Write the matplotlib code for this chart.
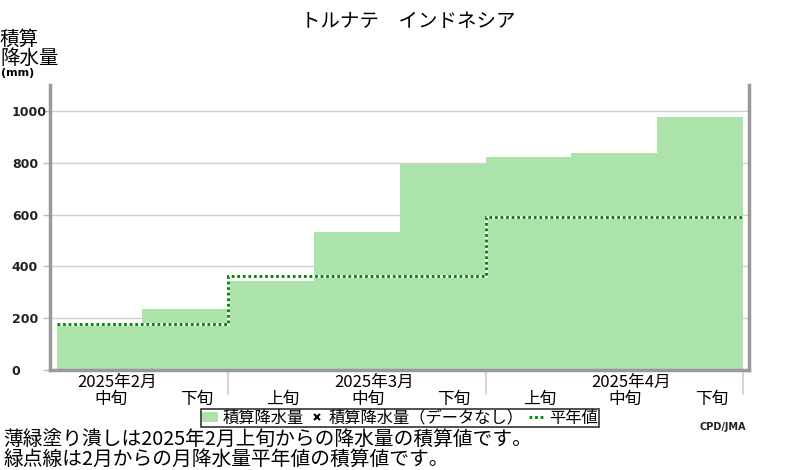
import matplotlib
matplotlib.use('Agg')
import matplotlib.pyplot as plt
from matplotlib.lines import Line2D
from matplotlib.patches import Patch

plt.rcParams['font.family'] = ['Noto Sans CJK JP', 'DejaVu Sans']

# data
title = 'トルナテ　インドネシア'
dekads = ['中旬', '下旬', '上旬', '中旬', '下旬', '上旬', '中旬', '下旬']
months = ['2025年2月', '2025年3月', '2025年4月']
month_dekads = [2, 3, 3]          # dekads shown in each month
month_label_at = [0, 3, 6]        # dekad under which the month label sits
precip = [174, 236, 342, 534, 797, 824, 839, 975]
normal = [177, 364, 589]          # cumulative monthly normal
yticks = [0, 200, 400, 600, 800, 1000]

W, H = 800, 470
def fx(px): return px / W
def fy(py): return 1 - py / H

fig = plt.figure(figsize=(8, 4.7), dpi=100)
ax = fig.add_axes([fx(50), fy(370), fx(749) - fx(50), fy(85) - fy(370)])

green_fill = '#abe3ab'
axis_grey = '#999999'

x = list(range(len(precip)))
ax.bar(x, precip, width=1.0, align='edge', color=green_fill, zorder=2)

edges = [0]
for n in month_dekads:
    edges.append(edges[-1] + n)
ax.stairs(normal, edges, baseline=None, color='white', lw=2.0, zorder=3)
ax.stairs(normal, edges, baseline=None, color='#008000', lw=2.0,
          linestyle=(0, (1, 1)), zorder=4)

ax.set_xlim(-0.078, len(precip) + 0.07)
ax.set_ylim(0, 1100)
ax.set_yticks(yticks)
ax.set_yticklabels([str(v) for v in yticks], fontsize=9, fontweight='bold',
                   family='DejaVu Sans', color='#222222')
for lab in ax.get_yticklabels():
    lab.set_horizontalalignment('left')
ax.tick_params(axis='y', length=5, width=1, color='#bbbbbb', pad=22.5)
ax.set_xticks([])
ax.grid(axis='y', color='#d0d0d0', lw=1, zorder=0)
ax.set_axisbelow(True)

for side in ['left', 'right', 'bottom']:
    ax.spines[side].set_color(axis_grey)
    ax.spines[side].set_linewidth(2.5)
ax.spines['top'].set_visible(False)

# x labels below the axis
trans = ax.get_xaxis_transform()
for i, d in enumerate(dekads):
    ax.text(i + 0.63, -0.103, d, transform=trans, ha='center', va='center',
            fontsize=12, clip_on=False)
for m, i in zip(months, month_label_at):
    ax.text(i + 0.7, -0.044, m, transform=trans, ha='center', va='center',
            fontsize=12, clip_on=False)
for e in edges[1:]:
    ax.plot([e, e], [-0.01, -0.085], transform=trans, color='#cccccc',
            lw=1.2, clip_on=False)

fig.text(fx(408), fy(21), title, ha='center', va='center', fontsize=14)
fig.text(0, fy(29), '積算\n降水量', ha='left', va='top', fontsize=14,
         linespacing=0.85)
fig.text(fx(1), fy(73), '(mm)', ha='left', va='center', fontsize=8,
         fontweight='bold', family='DejaVu Sans')

handles = [Patch(facecolor=green_fill, edgecolor='none'),
           Line2D([], [], marker='x', color='black', linestyle='none',
                  markersize=5, markeredgewidth=1.5),
           Line2D([], [], color='#008000', lw=2, linestyle=(0, (1, 1)))]
labels = ['積算降水量', '積算降水量（データなし）', '平年値']
leg = fig.legend(handles, labels, loc='center',
                 bbox_to_anchor=(fx(400), fy(418)), ncol=3, fontsize=11.7,
                 frameon=True, fancybox=False, edgecolor='black',
                 borderpad=0.05, handlelength=1.0, handletextpad=0.25,
                 columnspacing=0.3, borderaxespad=0, handleheight=0.6)
leg.get_frame().set_linewidth(1.2)

fig.text(fx(700), fy(427), 'CPD/JMA', ha='left', va='center', fontsize=7,
         fontweight='bold', family='DejaVu Sans', color='#222222')

fig.text(fx(3), fy(440), '薄緑塗り潰しは2025年2月上旬からの降水量の積算値です。',
         ha='left', va='center', fontsize=14.2)
fig.text(fx(3), fy(459), '緑点線は2月からの月降水量平年値の積算値です。',
         ha='left', va='center', fontsize=14.2)

fig.savefig('out.png', dpi=100)
